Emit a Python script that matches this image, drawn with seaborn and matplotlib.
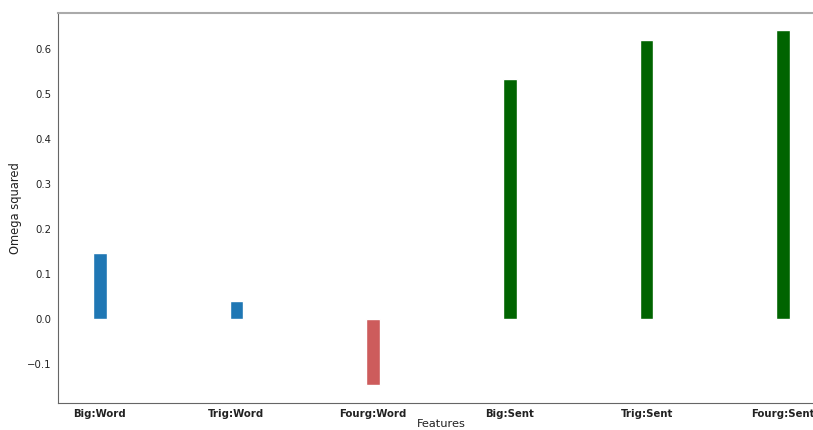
import pandas as pd
import matplotlib
matplotlib.use("Agg")
import matplotlib.pyplot as plt
import seaborn as sns

features = ["Big:Word", "Trig:Word", "Fourg:Word", "Big:Sent", "Trig:Sent", "Fourg:Sent"]
omega_sq = [0.147, 0.040, -0.147, 0.533, 0.620, 0.642]
bar_colors = ["#1f77b4", "#1f77b4", "#cd5c5c", "#006400", "#006400", "#006400"]

df = pd.DataFrame({"Features": features, "Omega squared": omega_sq})

sns.set_style("white")
plt.rcParams['font.family'] = ['DejaVu Sans']

fig = plt.figure(figsize=(8.13, 4.30), dpi=100)
# axes runs past the right edge, as in the (cropped) original
ax = fig.add_axes([58/813, 27/430, 767/813, 390/430])
sns.barplot(data=df, x="Features", y="Omega squared", hue="Features",
            palette=bar_colors, width=0.1, legend=False, ax=ax, saturation=1)

ax.set_xlim(-0.305, 5.305)
ax.set_ylim(-0.187, 0.68)
ax.set_xlabel("Features", fontsize=8.2, labelpad=0, color="#222222")
ax.set_ylabel("Omega squared", fontsize=8.3, labelpad=3, color="#222222")
ax.tick_params(axis="both", labelsize=7.3, length=3, color="#666666",
               direction="out", labelcolor="#222222", pad=2)
ax.tick_params(axis="x", pad=1.5)
for lbl in ax.get_xticklabels():
    lbl.set_fontweight("bold")
for s in ["left", "bottom"]:
    ax.spines[s].set_color("#666666")
ax.spines["top"].set_color("#aaaaaa")
ax.spines["top"].set_linewidth(1.5)

fig.savefig("out.png", dpi=100)
